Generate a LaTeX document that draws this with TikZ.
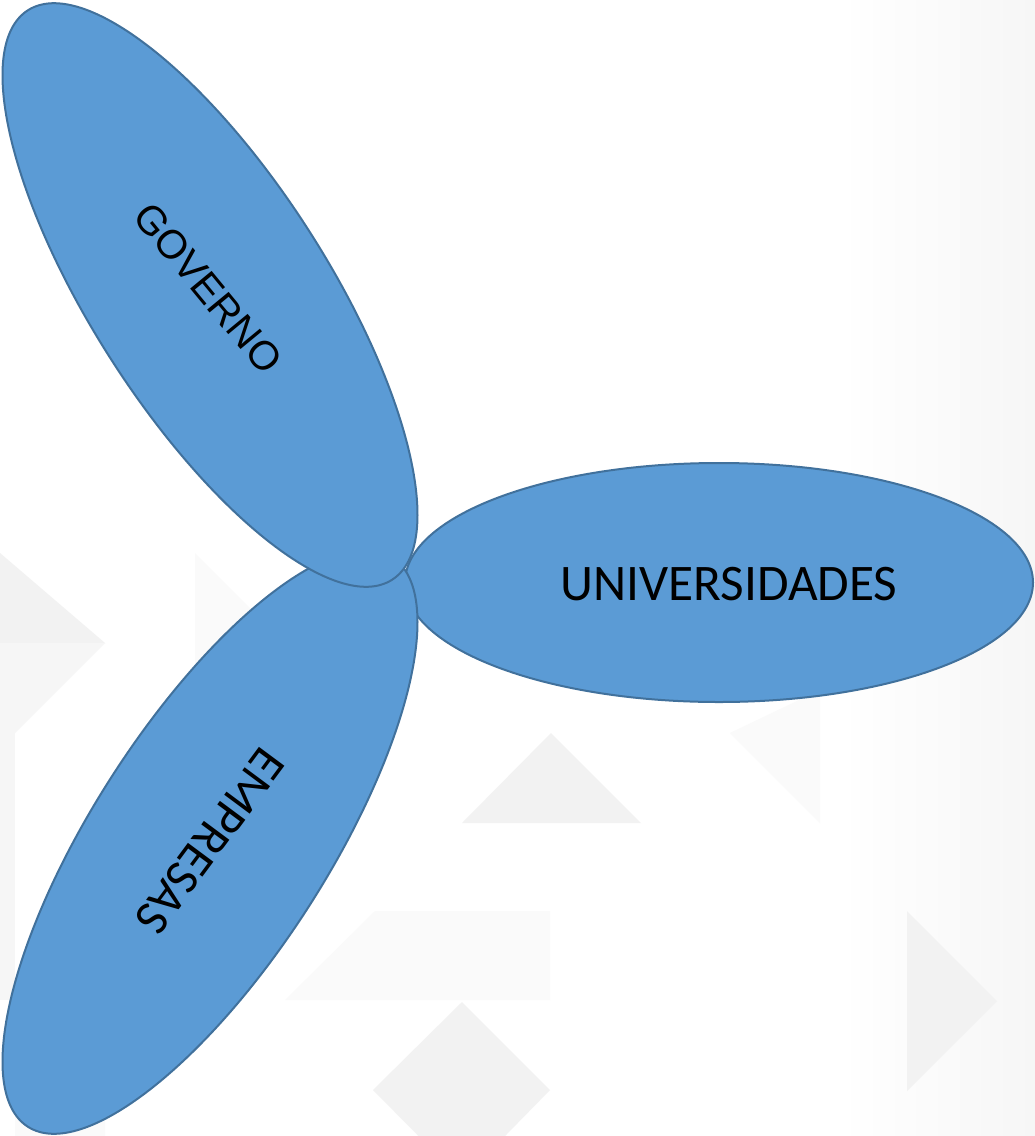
\documentclass[tikz,border=0pt]{standalone}
\usepackage{fontspec}
\setmainfont{Carlito}
\newfontfamily\arialf{Liberation Sans}
\usetikzlibrary{shapes.geometric}
\definecolor{petal}{HTML}{5B9BD5}
\definecolor{petaledge}{HTML}{41719C}
\definecolor{bgA}{HTML}{F2F2F2}
\definecolor{bgB}{HTML}{F6F6F6}
\definecolor{bgC}{HTML}{FAFAFA}
\tikzset{
  petalshape/.style={ellipse, draw=petaledge, fill=petal, line width=2pt, inner sep=0pt, outer sep=0pt},
  petaltext/.style={text=black, inner sep=0pt, anchor=center},
  bgtri/.style={fill=bgA, draw=none},
  bgtrilight/.style={fill=bgB, draw=none},
  bgtrifaint/.style={fill=bgC, draw=none}
}
\begin{document}
\begin{tikzpicture}[x=1pt, y=-1pt]
\useasboundingbox (0,0) rectangle (1035,1136);
\fill[white] (0,0) rectangle (1035,1136);
% soft grey shading at the right edge
\shade[left color=white, right color=bgB, draw=none] (840,0) rectangle (1035,1136);
% faint background triangles
\fill[bgtri] (0,553) -- (105,643) -- (0,643) -- cycle;
\fill[bgtrilight] (0,643) -- (105,643) -- (15,733) -- (0,733) -- cycle;
\fill[bgtrilight] (0,733) rectangle (15,1000);
\fill[bgtrifaint] (195,553) -- (285,643) -- (195,733) -- cycle;
\fill[bgtri] (462,823) -- (551,733) -- (641,823) -- cycle;
\fill[bgtrifaint] (730,733) -- (820,823) -- (820,690) -- cycle;
\fill[bgtri] (907,911) -- (997,1001) -- (907,1091) -- cycle;
\fill[bgtri] (373,1090) -- (462,1002) -- (550,1090) -- (462,1180) -- cycle;
\fill[bgtrifaint] (285,1000) -- (375,911) -- (550,911) -- (550,1000) -- cycle;
\fill[bgtrifaint] (15,1000) -- (105,1090) -- (105,1136) -- (15,1136) -- cycle;
% petals
\node[petalshape, minimum width=628pt, minimum height=239pt] (uni) at (719,582.5) {};
\node[petalshape, minimum width=676pt, minimum height=236pt, rotate=57.4] (emp) at (210,842) {};
\node[petalshape, minimum width=676pt, minimum height=236pt, rotate=-57.4] (gov) at (210,295) {};
% labels
\node[petaltext, font=\fontsize{51.3}{60}\selectfont] (unitext) at (729,584) {UNIVERSIDADES};
\node[petaltext, font=\fontsize{49.5}{60}\selectfont, rotate=233.4] (emptext) at (210,841) {EMPRESAS};
\node[petaltext, font=\arialf\fontsize{40.5}{48}\selectfont, rotate=-50.5] (govtext) at (208,288) {GOVERNO};
\end{tikzpicture}
\end{document}
